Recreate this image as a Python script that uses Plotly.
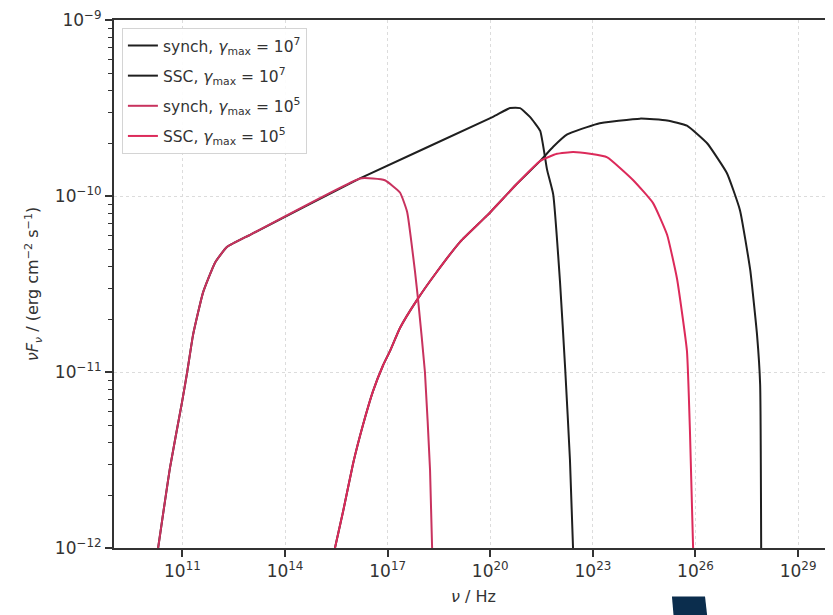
import plotly.graph_objects as go

# log10(nu / Hz) and log10(nuFnu / erg cm^-2 s^-1)
synch7_lognu = [10.29, 10.64, 10.99, 11.14, 11.31, 11.60, 11.95, 12.30, 12.98, 16.19,
                20.08, 20.58, 20.87, 21.16, 21.46, 21.66, 21.84, 22.04, 22.19, 22.33, 22.42]
synch7_logF = [-12.0, -11.54, -11.17, -11.00, -10.79, -10.55, -10.38, -10.29, -10.22, -9.90,
               -9.55, -9.50, -9.50, -9.55, -9.63, -9.85, -9.99, -10.49, -10.98, -11.50, -12.0]

ssc7_lognu = [15.46, 15.70, 15.99, 16.28, 16.57, 16.87, 17.07, 17.36, 17.86, 18.44, 19.12, 19.91,
              20.78, 21.46, 21.84, 22.25, 23.12, 24.38, 25.17, 25.75, 26.34, 26.92, 27.30,
              27.60, 27.80, 27.89, 27.92]
ssc7_logF = [-12.0, -11.79, -11.52, -11.30, -11.11, -10.96, -10.88, -10.75, -10.59, -10.43, -10.26, -10.11,
             -9.93, -9.80, -9.72, -9.65, -9.59, -9.56, -9.57, -9.60, -9.70, -9.87, -10.08,
             -10.42, -10.79, -11.07, -12.0]

synch5_lognu = [10.29, 10.64, 10.99, 11.14, 11.31, 11.60, 11.95, 12.30, 12.98, 16.19,
                16.57, 16.92, 17.36, 17.57, 17.80, 17.89, 18.09, 18.24, 18.30]
synch5_logF = [-12.0, -11.54, -11.17, -11.00, -10.79, -10.55, -10.38, -10.29, -10.22, -9.90,
               -9.90, -9.91, -9.98, -10.09, -10.43, -10.59, -11.00, -11.56, -12.0]

ssc5_lognu = [15.46, 15.70, 15.99, 16.28, 16.57, 16.87, 17.07, 17.36, 17.86, 18.44, 19.12, 19.91,
              20.78, 21.46, 21.95, 22.42, 22.92, 23.42, 24.18, 24.76, 25.17, 25.46, 25.75,
              25.84, 25.93]
ssc5_logF = [-12.0, -11.79, -11.52, -11.30, -11.11, -10.96, -10.88, -10.75, -10.59, -10.43, -10.26, -10.11,
             -9.93, -9.80, -9.76, -9.75, -9.76, -9.78, -9.91, -10.04, -10.22, -10.47, -10.88,
             -11.35, -12.0]

series_names = ["synch, <i>γ</i><sub>max</sub> = 10<sup>7</sup>",
                "SSC, <i>γ</i><sub>max</sub> = 10<sup>7</sup>",
                "synch, <i>γ</i><sub>max</sub> = 10<sup>5</sup>",
                "SSC, <i>γ</i><sub>max</sub> = 10<sup>5</sup>"]
series_colors = ["#1f1f1f", "#1f1f1f", "#c8325e", "#dc2a5a"]

x_tick_exps = [11, 14, 17, 20, 23, 26, 29]
y_tick_exps = [-12, -11, -10, -9]

series = [(synch7_lognu, synch7_logF), (ssc7_lognu, ssc7_logF),
          (synch5_lognu, synch5_logF), (ssc5_lognu, ssc5_logF)]

fig = go.Figure()
for i, ((lx, ly), name, col) in enumerate(zip(series, series_names, series_colors)):
    fig.add_trace(go.Scatter(
        x=[10.0 ** v for v in lx], y=[10.0 ** v for v in ly], mode="lines", name=name,
        legendgroup=f"g{i}",
        line=dict(color=col, width=2, shape="spline", smoothing=0.4)))

font_family = "DejaVu Sans"
ytick_minor = [m * 10.0 ** e for e in y_tick_exps[:-1] for m in range(2, 10)]

# page body has an 8px margin; figure sized so it ends at the window edge
fig.update_layout(
    width=825, height=607,
    margin=dict(l=106, r=0, t=8, b=67),
    paper_bgcolor="white", plot_bgcolor="white",
    font=dict(family=font_family, color="#333333", size=14),
    showlegend=True,
    legend=dict(x=0.011, y=0.985, xanchor="left", yanchor="top",
                bgcolor="rgba(255,255,255,0.9)", bordercolor="#d4d4d4", borderwidth=1,
                font=dict(size=15.5, color="#333333"), tracegroupgap=7,
                itemwidth=30),
    xaxis=dict(
        type="log", range=[9.0, 30.02],
        tickmode="array", tickvals=[10.0 ** e for e in x_tick_exps],
        ticktext=[f"10<sup>{e}</sup>" for e in x_tick_exps],
        ticks="outside", ticklen=7, tickwidth=2, tickcolor="#333333",
        showline=True, linewidth=2, linecolor="#333333", mirror=True,
        showgrid=True, gridcolor="#dcdcdc", griddash="dot", gridwidth=1,
        zeroline=False, tickfont=dict(size=17), ticklabeloverflow="allow",
        title=dict(text="<i>ν</i> / Hz", font=dict(size=16), standoff=10),
    ),
    yaxis=dict(
        type="log", range=[-12.0, -8.9995],
        tickmode="array", tickvals=[10.0 ** e for e in y_tick_exps],
        ticktext=[f"10<sup>−{-e}</sup>" for e in y_tick_exps],
        ticks="outside", ticklen=7, tickwidth=2, tickcolor="#333333",
        minor=dict(tickmode="array", tickvals=ytick_minor, ticks="outside",
                   ticklen=4, tickwidth=1, tickcolor="#333333", showgrid=False),
        showline=True, linewidth=2, linecolor="#333333",
        showgrid=True, gridcolor="#dcdcdc", griddash="dot", gridwidth=1,
        zeroline=False, tickfont=dict(size=17), ticklabeloverflow="allow",
        title=dict(text="<i>νF</i><sub><i>ν</i></sub> / (erg cm<sup>−2</sup> s<sup>−1</sup>)",
                   font=dict(size=16), standoff=12),
    ),
)

# dark decoration fragment visible at the bottom edge of the reference image
fig.add_shape(type="path", xref="paper", yref="paper",
              path="M 0.776 -0.092 L 0.822 -0.092 L 0.826 -0.14 L 0.779 -0.14 Z",
              fillcolor="#0b2d4d", line=dict(width=0), layer="above")

fig.write_html("out.html")
